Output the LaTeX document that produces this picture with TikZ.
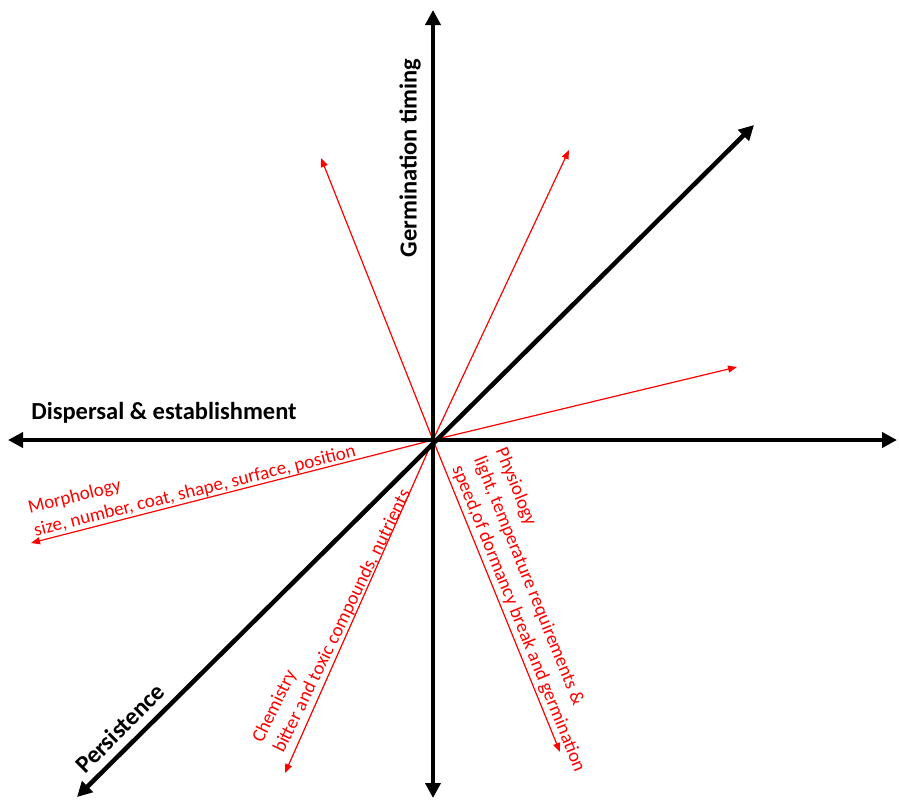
\documentclass[tikz,border=0pt]{standalone}
\usepackage{fontspec}
\setmainfont{Carlito}
\usetikzlibrary{arrows.meta}

\begin{document}
\begin{tikzpicture}[x=1pt,y=-1pt,
    axis/.style={line width=4.5pt, {Triangle[length=15pt,width=15pt]}-{Triangle[length=15pt,width=15pt]}},
    trait/.style={red, line width=1.2pt, -{Triangle[length=9pt,width=7pt]}},
    axislabel/.style={font=\fontsize{24.5}{29}\selectfont\bfseries, inner sep=0pt},
    traitlabel/.style={red, font=\fontsize{19}{23.5}\selectfont, align=left, inner sep=0pt}]
\useasboundingbox (0,0) rectangle (899,803);
% centre and axis ends
\coordinate (O) at (433,440);
\coordinate (W) at (8,440);
\coordinate (E) at (897,440);
\coordinate (N) at (433,10);
\coordinate (S) at (433,798);
\coordinate (SW) at (77,797);
\coordinate (NE) at (754,125);
% trait arrow ends
\coordinate (nw) at (321,158);
\coordinate (nn) at (569,150);
\coordinate (ee) at (737,367);
\coordinate (mor) at (31,543);
\coordinate (che) at (285,773);
\coordinate (phy) at (560,752);

\draw[trait] (O) -- (nw);
\draw[trait] (O) -- (nn);
\draw[trait] (O) -- (ee);
\draw[trait] (O) -- (mor);
\draw[trait] (O) -- (che);
\draw[trait] (O) -- (phy);

\draw[axis] (W) -- (E);
\draw[axis] (S) -- (N);
\draw[axis] (SW) -- (NE);

\node[axislabel, rotate=90] (germ) at (410,158) {Germination timing};
\node[axislabel] (disp) at (164,413) {Dispersal \& establishment};
\node[axislabel, rotate=45] (pers) at (120,728) {Persistence};

\node[traitlabel, rotate=14] (morlbl) at (192,480) {Morphology\\size, number, coat, shape, surface, position};
\node[traitlabel, rotate=64] (chelbl) at (332,616) {Chemistry\\bitter and toxic compounds, nutrients};
\node[traitlabel, rotate=-68] (phylbl) at (540,610) {Physiology\\light, temperature requirements \&\\speed,of dormancy break and germination};
\end{tikzpicture}
\end{document}
